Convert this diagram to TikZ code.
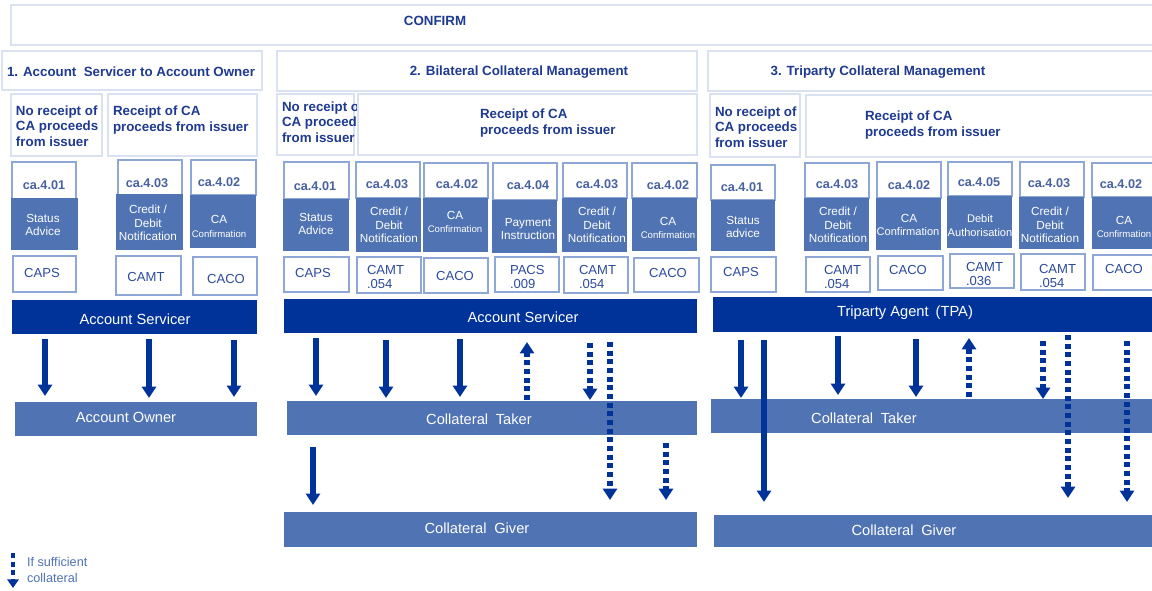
\documentclass[tikz,border=0pt]{standalone}
\usepackage{fontspec}
\setmainfont{Liberation Sans}
\usetikzlibrary{arrows.meta}
\definecolor{navy}{RGB}{0,51,153}
\definecolor{mid}{RGB}{79,115,179}
\definecolor{hdrline}{RGB}{218,226,242}
\definecolor{boxline}{RGB}{143,167,214}
\definecolor{txt}{RGB}{30,58,145}
\definecolor{catxt}{RGB}{72,98,160}
\definecolor{codetxt}{RGB}{44,74,158}
\newcommand\rb[6]{\node[#1,minimum width={(#4-#2)*0.75pt},minimum height={(#5-#3)*0.75pt}] (#6) at ({(#2+#4)/2},{(#3+#5)/2}) {};}
\tikzset{
  every node/.style={inner sep=0pt,outer sep=0pt},
  hdrbox/.style={draw=hdrline,line width=1.5pt,fill=white},
  topbox/.style={draw=boxline,line width=1.1pt,fill=white},
  bodybox/.style={fill=mid},
  codebox/.style={draw=boxline,line width=1.1pt,fill=white},
  darkbar/.style={fill=navy},
  midbar/.style={fill=mid},
  hdtxt/.style={text=txt,font=\bfseries\fontsize{10pt}{11.6pt}\selectfont,align=left},
  catx/.style={text=catxt,font=\bfseries\fontsize{9.5pt}{11pt}\selectfont},
  bodytx/.style={text=white,font=\fontsize{8.8pt}{10pt}\selectfont,align=center},
  smalltx/.style={text=white,font=\fontsize{7.2pt}{8pt}\selectfont},
  codetx/.style={text=codetxt,font=\fontsize{9.8pt}{11.2pt}\selectfont,align=left},
  bartx/.style={text=white,font=\fontsize{11pt}{13pt}\selectfont},
  legtx/.style={text=mid,font=\fontsize{9.5pt}{12pt}\selectfont,align=left},
  arr/.style={draw=navy,line width=4.2pt,-{Triangle[width=10.5pt,length=8.5pt]}},
  darr/.style={arr,dash pattern=on 3.8pt off 2.7pt},
}
\begin{document}
\begin{tikzpicture}[x=0.75pt,y=-0.75pt]
\clip (0,0) rectangle (1152,591);
\useasboundingbox (0,0) rectangle (1152,591);
\fill[white] (0,0) rectangle (1152,591);
% top headers
\rb{hdrbox}{11}{5}{1160}{45}{cf}
\node[hdtxt] (cft) at (435,21) {CONFIRM};
\rb{hdrbox}{2}{51}{262}{90}{h1}
\node[hdtxt] (h1t) at (131,72) {1. Account\ \ Servicer to Account Owner};
\rb{hdrbox}{277}{51}{697}{91}{h2}
\node[hdtxt] (h2t) at (519,72) {2. Bilateral Collateral Management};
\rb{hdrbox}{708}{51}{1160}{91}{h3}
\node[hdtxt] (h3t) at (878,72) {3. Triparty Collateral Management};
% sub headers
\rb{hdrbox}{11}{94}{102}{156}{s11}
\node[hdtxt,anchor=west] (s11t) at (16,126) {No receipt of\\CA proceeds\\from issuer};
\rb{hdrbox}{108}{94}{257}{156}{s12}
\node[hdtxt,anchor=west] (s12t) at (113,120) {Receipt of CA\\proceeds from issuer};
\rb{hdrbox}{277}{94}{354}{155}{s21}
\node[hdtxt,anchor=west] (s21t) at (282,122) {No receipt of\\CA proceeds\\from issuer};
\rb{hdrbox}{358}{94}{697}{155}{s22}
\node[hdtxt,anchor=west] (s22t) at (480,123) {Receipt of CA\\proceeds from issuer};
\rb{hdrbox}{710}{94}{800}{157}{s31}
\node[hdtxt,anchor=west] (s31t) at (715,127) {No receipt of\\CA proceeds\\from issuer};
\rb{hdrbox}{806}{95}{1160}{157}{s32}
\node[hdtxt,anchor=west] (s32t) at (865,125) {Receipt of CA\\proceeds from issuer};
% ---- section 1 messages
\rb{topbox}{12}{162}{76}{199}{t11}\rb{bodybox}{11}{198}{78}{250}{b11}\rb{codebox}{13}{256}{76}{292}{k11}
\rb{topbox}{118}{160}{182}{195}{t12}\rb{bodybox}{116}{194}{183}{250}{b12}\rb{codebox}{116}{256}{181}{295}{k12}
\rb{topbox}{191}{160}{256}{195}{t13}\rb{bodybox}{190}{195}{256}{248}{b13}\rb{codebox}{193}{257}{257}{295}{k13}
\node[catx] (c11) at (44,185) {ca.4.01};
\node[catx] (c12) at (147,183) {ca.4.03};
\node[catx] (c13) at (219,182) {ca.4.02};
\node[bodytx] (d11) at (43,225) {Status\\Advice};
\node[bodytx] (d12) at (148,223) {Credit /\\Debit\\Notification};
\node[bodytx] (d13a) at (219,219) {CA};
\node[smalltx] (d13b) at (219,234) {Confirmation};
\node[codetx] (e11) at (42,273) {CAPS};
\node[codetx] (e12) at (146,277) {CAMT};
\node[codetx] (e13) at (226,279) {CACO};
% ---- section 2 messages
\rb{topbox}{284}{162}{349}{199}{t21}\rb{bodybox}{283}{199}{349}{251}{b21}\rb{codebox}{284}{257}{349}{292}{k21}
\rb{topbox}{356}{162}{420}{198}{t22}\rb{bodybox}{356}{198}{421}{252}{b22}\rb{codebox}{357}{257}{421}{293}{k22}
\rb{topbox}{424}{163}{488}{198}{t23}\rb{bodybox}{423}{198}{488}{252}{b23}\rb{codebox}{424}{258}{488}{293}{k23}
\rb{topbox}{493}{163}{557}{200}{t24}\rb{bodybox}{492}{200}{557}{253}{b24}\rb{codebox}{495}{257}{559}{292}{k24}
\rb{topbox}{563}{163}{627}{198}{t25}\rb{bodybox}{562}{198}{627}{252}{b25}\rb{codebox}{564}{257}{628}{293}{k25}
\rb{topbox}{632}{163}{697}{198}{t26}\rb{bodybox}{632}{198}{697}{251}{b26}\rb{codebox}{634}{258}{699}{292}{k26}
\node[catx] (c21) at (315,186) {ca.4.01};
\node[catx] (c22) at (387,184) {ca.4.03};
\node[catx] (c23) at (457,184) {ca.4.02};
\node[catx] (c24) at (528,185) {ca.4.04};
\node[catx] (c25) at (597,184) {ca.4.03};
\node[catx] (c26) at (668,185) {ca.4.02};
\node[bodytx] (d21) at (316,224) {Status\\Advice};
\node[bodytx] (d22) at (389,225) {Credit /\\Debit\\Notification};
\node[bodytx] (d23a) at (455,215) {CA};
\node[smalltx] (d23b) at (455,229) {Confirmation};
\node[bodytx] (d24) at (528,229) {Payment\\Instruction};
\node[bodytx] (d25) at (597,225) {Credit /\\Debit\\Notification};
\node[bodytx] (d26a) at (668,221) {CA};
\node[smalltx] (d26b) at (668,235) {Confirmation};
\node[codetx] (e21) at (313,273) {CAPS};
\node[codetx,anchor=west] (e22) at (367,277) {CAMT\\.054};
\node[codetx] (e23) at (455,276) {CACO};
\node[codetx,anchor=west] (e24) at (510,277) {PACS\\.009};
\node[codetx,anchor=west] (e25) at (579,277) {CAMT\\.054};
\node[codetx] (e26) at (668,273) {CACO};
% ---- section 3 messages
\rb{topbox}{711}{165}{775}{200}{t31}\rb{bodybox}{711}{200}{775}{251}{b31}\rb{codebox}{711}{257}{776}{292}{k31}
\rb{topbox}{805}{163}{869}{198}{t32}\rb{bodybox}{804}{198}{869}{251}{b32}\rb{codebox}{806}{257}{870}{292}{k32}
\rb{topbox}{877}{162}{941}{198}{t33}\rb{bodybox}{876}{198}{941}{250}{b33}\rb{codebox}{878}{256}{943}{290}{k33}
\rb{topbox}{948}{162}{1012}{196}{t34}\rb{bodybox}{947}{196}{1012}{248}{b34}\rb{codebox}{950}{254}{1014}{288}{k34}
\rb{topbox}{1020}{162}{1084}{197}{t35}\rb{bodybox}{1019}{197}{1084}{249}{b35}\rb{codebox}{1021}{254}{1085}{290}{k35}
\rb{topbox}{1092}{163}{1160}{197}{t36}\rb{bodybox}{1092}{197}{1160}{249}{b36}\rb{codebox}{1093}{255}{1160}{290}{k36}
\node[catx] (c31) at (742,187) {ca.4.01};
\node[catx] (c32) at (837,184) {ca.4.03};
\node[catx] (c33) at (909,185) {ca.4.02};
\node[catx] (c34) at (979,182) {ca.4.05};
\node[catx] (c35) at (1049,183) {ca.4.03};
\node[catx] (c36) at (1121,184) {ca.4.02};
\node[bodytx] (d31) at (743,227) {Status\\advice};
\node[bodytx] (d32) at (838,225) {Credit /\\Debit\\Notification};
\node[bodytx] (d33a) at (909,218) {CA};
\node[bodytx,font=\fontsize{8.3pt}{10pt}\selectfont] (d33b) at (908,232) {Confirmation};
\node[bodytx,font=\fontsize{8.3pt}{10.5pt}\selectfont] (d34) at (980,226) {Debit\\Authorisation};
\node[bodytx] (d35) at (1050,225) {Credit /\\Debit\\Notification};
\node[bodytx] (d36a) at (1124,220) {CA};
\node[smalltx] (d36b) at (1124,234) {Confirmation};
\node[codetx] (e31) at (741,272) {CAPS};
\node[codetx,anchor=west] (e32) at (824,277) {CAMT\\.054};
\node[codetx] (e33) at (908,270) {CACO};
\node[codetx,anchor=west] (e34) at (966,274) {CAMT\\.036};
\node[codetx,anchor=west] (e35) at (1039,276) {CAMT\\.054};
\node[codetx] (e36) at (1124,269) {CACO};
% ---- bars
\rb{darkbar}{12}{300}{257}{334}{as1}
\rb{midbar}{15}{402}{257}{436}{ao}
\rb{darkbar}{284}{299}{697}{333}{as2}
\rb{midbar}{287}{401}{697}{435}{ct2}
\rb{midbar}{284}{512}{697}{547}{cg2}
\rb{darkbar}{713}{297}{1160}{332}{tpa}
\rb{midbar}{711}{399}{1160}{433}{ct3}
\rb{midbar}{714}{515}{1160}{547}{cg3}
\node[bartx] (as1t) at (135,319) {Account Servicer};
\node[bartx] (aot) at (126,417) {Account Owner};
\node[bartx] (as2t) at (523,317) {Account Servicer};
\node[bartx] (ct2t) at (479,419) {Collateral\hspace{0.25em} Taker};
\node[bartx] (cg2t) at (477,528) {Collateral\hspace{0.25em} Giver};
\node[bartx] (tpat) at (905,313) {Triparty Agent\hspace{0.2em} (TPA)};
\node[bartx] (ct3t) at (864,418) {Collateral\hspace{0.25em} Taker};
\node[bartx] (cg3t) at (904,530) {Collateral\hspace{0.25em} Giver};
% ---- arrow columns
\foreach \n/\x in {x1/45,x2/149,x3/234,y1/316,y2/386,y3/460,y4/527,y5/590,y6/610,y7/666,y8/313,
  z1/741,z2/764,z3/838,z4/916,z5/969,z6/1043,z7/1068,z8/1127}{\coordinate (\n) at (\x,0);}
% section 1
\draw[arr,shorten <=3.8pt,shorten >=4.5pt] (as1.south -| x1) -- (ao.north -| x1);
\draw[arr,shorten <=3.8pt,shorten >=3pt] (as1.south -| x2) -- (ao.north -| x2);
\draw[arr,shorten <=4.5pt,shorten >=3.8pt] (as1.south -| x3) -- (ao.north -| x3);
% section 2
\draw[arr,shorten <=3.8pt,shorten >=3.8pt] (as2.south -| y1) -- (ct2.north -| y1);
\draw[arr,shorten <=5.3pt,shorten >=2.3pt] (as2.south -| y2) -- (ct2.north -| y2);
\draw[arr,shorten <=4.5pt,shorten >=3pt] (as2.south -| y3) -- (ct2.north -| y3);
\draw[darr,shorten <=0.8pt,shorten >=6.8pt] (ct2.north -| y4) -- (as2.south -| y4);
\draw[darr,shorten <=7.5pt,shorten >=0.8pt] (as2.south -| y5) -- (ct2.north -| y5);
\draw[darr,shorten <=6.8pt,shorten >=9pt] (as2.south -| y6) -- (cg2.north -| y6);
\draw[darr,shorten <=6pt,shorten >=9pt] (ct2.south -| y7) -- (cg2.north -| y7);
\draw[arr,shorten <=9pt,shorten >=5.3pt] (ct2.south -| y8) -- (cg2.north -| y8);
% section 3
\draw[arr,shorten <=6pt,shorten >=0.8pt] (tpa.south -| z1) -- (ct3.north -| z1);
\draw[arr,shorten <=6pt,shorten >=9.8pt] (tpa.south -| z2) -- (cg3.north -| z2);
\draw[arr,shorten <=3pt,shorten >=3pt] (tpa.south -| z3) -- (ct3.north -| z3);
\draw[arr,shorten <=5.3pt,shorten >=1.5pt] (tpa.south -| z4) -- (ct3.north -| z4);
\draw[darr,shorten <=1.5pt,shorten >=4.5pt] (ct3.north -| z5) -- (tpa.south -| z5);
\draw[darr,shorten <=6.8pt,shorten >=0pt] (tpa.south -| z6) -- (ct3.north -| z6);
\draw[darr,shorten <=2.3pt,shorten >=12.8pt] (tpa.south -| z7) -- (cg3.north -| z7);
\draw[darr,shorten <=6.8pt,shorten >=9.8pt] (tpa.south -| z8) -- (cg3.north -| z8);
% legend
\coordinate (lg1) at (13,553);
\coordinate (lg2) at (13,588);
\draw[darr,line width=3.2pt,-{Triangle[width=8.5pt,length=6.5pt]}] (lg1) -- (lg2);
\node[legtx,anchor=west] (lgt) at (27,570) {If sufficient\\collateral};
\end{tikzpicture}
\end{document}
